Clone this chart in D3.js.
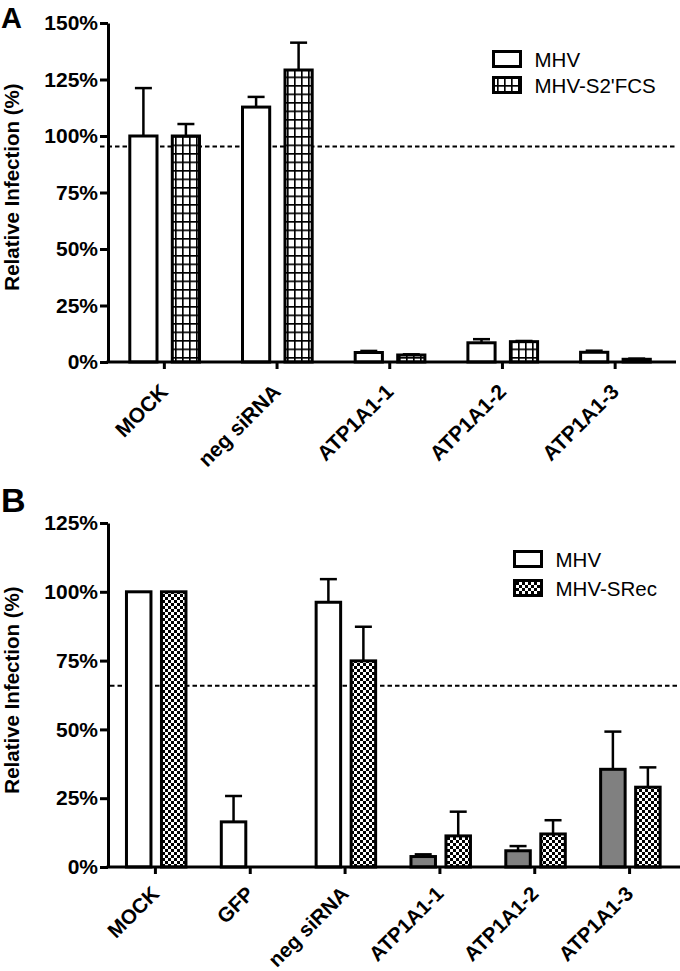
<!DOCTYPE html>
<html><head><meta charset="utf-8">
<script src="https://cdn.jsdelivr.net/npm/d3@7"></script>
<style>body{margin:0;background:#fff} svg{display:block}</style>
</head><body>
<svg id="c" width="680" height="971"></svg>
<script>
// ---------- data ----------
const catsA = ["MOCK", "neg siRNA", "ATP1A1-1", "ATP1A1-2", "ATP1A1-3"];
const seriesA = ["MHV", "MHV-S2'FCS"];
const mhvA = [100, 112.8, 4.2, 8.5, 4.3];
const mhvAErr = [21.2, 4.5, 0.7, 1.6, 0.7];
const fcsA = [100, 129.2, 3.1, 9.0, 1.2];
const fcsAErr = [5.3, 12.1, 0.3, 0.3, 0.3];
const ticksA = [0, 25, 50, 75, 100, 125, 150];
const thresholdA = 95.3;

const catsB = ["MOCK", "GFP", "neg siRNA", "ATP1A1-1", "ATP1A1-2", "ATP1A1-3"];
const seriesB = ["MHV", "MHV-SRec"];
const mhvB = [100, 16.4, 96.2, 3.8, 5.9, 35.5];
const mhvBErr = [0, 9.4, 8.4, 0.8, 1.7, 13.7];
const mhvBGrey = [false, false, false, true, true, true];
const srecB = [100, null, 74.9, 11.3, 12.0, 29.0];
const srecBErr = [0, null, 12.4, 8.8, 5.0, 7.2];
const ticksB = [0, 25, 50, 75, 100, 125];
const thresholdB = 65.9;

// ---------- drawing ----------
const svg = d3.select("#c");
const FONT = "'Liberation Sans', Arial, Helvetica, sans-serif";
const defs = svg.append("defs");

const pg = defs.append("pattern").attr("id", "grid").attr("patternUnits", "userSpaceOnUse")
  .attr("width", 7).attr("height", 8.5);
pg.append("rect").attr("width", 7).attr("height", 8.5).attr("fill", "#fff");
pg.append("path").attr("d", "M0.8,0V8.5M0,0.8H7").attr("stroke", "#000").attr("stroke-width", 1.7);

const pc = defs.append("pattern").attr("id", "checker").attr("patternUnits", "userSpaceOnUse")
  .attr("width", 6).attr("height", 6);
pc.append("rect").attr("width", 6).attr("height", 6).attr("fill", "#fff");
pc.append("rect").attr("width", 3).attr("height", 3).attr("fill", "#000");
pc.append("rect").attr("x", 3).attr("y", 3).attr("width", 3).attr("height", 3).attr("fill", "#000");

function panel(cfg) {
  const g = svg.append("g");
  const x = d3.scaleBand().domain(cfg.cats).range(cfg.xRange).padding(0);
  const y = d3.scaleLinear().domain([0, d3.max(cfg.ticks)]).range(cfg.yRange);
  const c = i => x(cfg.cats[i]) + x.bandwidth() / 2;
  const x1 = d3.scaleBand().domain(cfg.series)
    .range([-cfg.step + cfg.shift, cfg.step + cfg.shift])
    .paddingInner(cfg.pad).paddingOuter(cfg.pad / 2);
  const bw = x1.bandwidth();

  // dashed threshold
  g.append("line").attr("x1", cfg.dashX0).attr("x2", cfg.xRange[1] + 4)
    .attr("y1", y(cfg.threshold)).attr("y2", y(cfg.threshold))
    .attr("stroke", "#000").attr("stroke-width", 2).attr("stroke-dasharray", "4.5,3");

  // bars
  cfg.values.forEach((vals, s) => {
    vals.forEach((v, i) => {
      if (v == null) return;
      const bx = c(i) + x1(cfg.series[s]);
      g.append("rect").attr("x", bx).attr("width", bw)
        .attr("y", y(v)).attr("height", y(0) - y(v))
        .attr("fill", cfg.fill(s, i)).attr("stroke", "#000").attr("stroke-width", 3);
      const e = cfg.errs[s][i];
      if (e > 0) {
        const cx = bx + bw / 2;
        g.append("line").attr("x1", cx).attr("x2", cx).attr("y1", y(v)).attr("y2", y(v + e))
          .attr("stroke", "#000").attr("stroke-width", 2.5);
        g.append("line").attr("x1", cx - 8.5).attr("x2", cx + 8.5).attr("y1", y(v + e)).attr("y2", y(v + e))
          .attr("stroke", "#000").attr("stroke-width", 2.5);
      }
    });
  });

  // y axis
  const ya = g.append("g").attr("transform", `translate(${cfg.xRange[0]},0)`)
    .call(d3.axisLeft(y).tickValues(cfg.ticks).tickFormat(d => d + "%").tickSize(8).tickSizeOuter(0).tickPadding(2));
  ya.selectAll("path,line").attr("stroke", "#000").attr("stroke-width", 3);
  ya.selectAll("text").attr("font-family", FONT).attr("font-weight", "bold").attr("font-size", 21).attr("fill", "#000");

  // x axis
  const xa = g.append("g").attr("transform", `translate(0,${cfg.yRange[0]})`)
    .call(d3.axisBottom(x).tickSize(7).tickSizeOuter(0));
  xa.select(".domain").attr("d", `M${cfg.xRange[0] - 1.5},0H${cfg.axisEnd}`);
  xa.selectAll("path,line").attr("stroke", "#000").attr("stroke-width", 3);
  xa.selectAll("text").attr("font-family", FONT).attr("font-weight", "bold").attr("font-size", cfg.labelSize).attr("fill", "#000")
    .attr("text-anchor", "end").attr("x", 0).attr("y", 0).attr("dy", 0)
    .attr("transform", `translate(5,${cfg.labelDy}) rotate(-45)`);

  // y title
  g.append("text").attr("transform", `translate(${cfg.titleX},${cfg.titleY}) rotate(-90)`)
    .attr("text-anchor", "middle").attr("font-family", FONT).attr("font-weight", "bold").attr("font-size", 20.5)
    .text("Relative Infection (%)");

  // panel letter
  g.append("text").attr("x", 1).attr("y", cfg.letterY).attr("font-family", FONT).attr("font-weight", "bold")
    .attr("font-size", cfg.letterSize).text(cfg.letter);

  // legend
  cfg.series.forEach((s, k) => {
    const ly = cfg.legY + k * cfg.legDy;
    g.append("rect").attr("x", cfg.legX).attr("y", ly).attr("width", 27).attr("height", 15)
      .attr("fill", k === 0 ? "#fff" : cfg.legFill).attr("stroke", "#000").attr("stroke-width", 3);
    g.append("text").attr("x", cfg.legX + 41).attr("y", ly + 15).attr("font-family", FONT)
      .attr("font-size", 20.5).text(s);
  });
}

panel({
  cats: catsA, series: seriesA, values: [mhvA, fcsA], errs: [mhvAErr, fcsAErr],
  ticks: ticksA, threshold: thresholdA, xRange: [108, 671.5], yRange: [362, 23], axisEnd: 676,
  step: 42.5, shift: 0.3, pad: 0.36, dashX0: 100,
  fill: (s) => s === 0 ? "#fff" : "url(#grid)", legFill: "url(#grid)",
  titleX: 19, titleY: 187, letter: "A", letterY: 28, letterSize: 29,
  legX: 493.5, legY: 51.5, legDy: 26, labelSize: 21, labelDy: 31
});

panel({
  cats: catsB, series: seriesB, values: [mhvB, srecB], errs: [mhvBErr, srecBErr],
  ticks: ticksB, threshold: thresholdB, xRange: [108, 677], yRange: [867, 523], axisEnd: 680,
  step: 35, shift: 0.8, pad: 0.3, dashX0: 110,
  fill: (s, i) => s === 1 ? "url(#checker)" : (mhvBGrey[i] ? "#808080" : "#fff"), legFill: "url(#checker)",
  titleX: 19, titleY: 690, letter: "B", letterY: 512, letterSize: 34,
  legX: 514.5, legY: 551.5, legDy: 29, labelSize: 20.5, labelDy: 28
});
</script>
</body></html>
